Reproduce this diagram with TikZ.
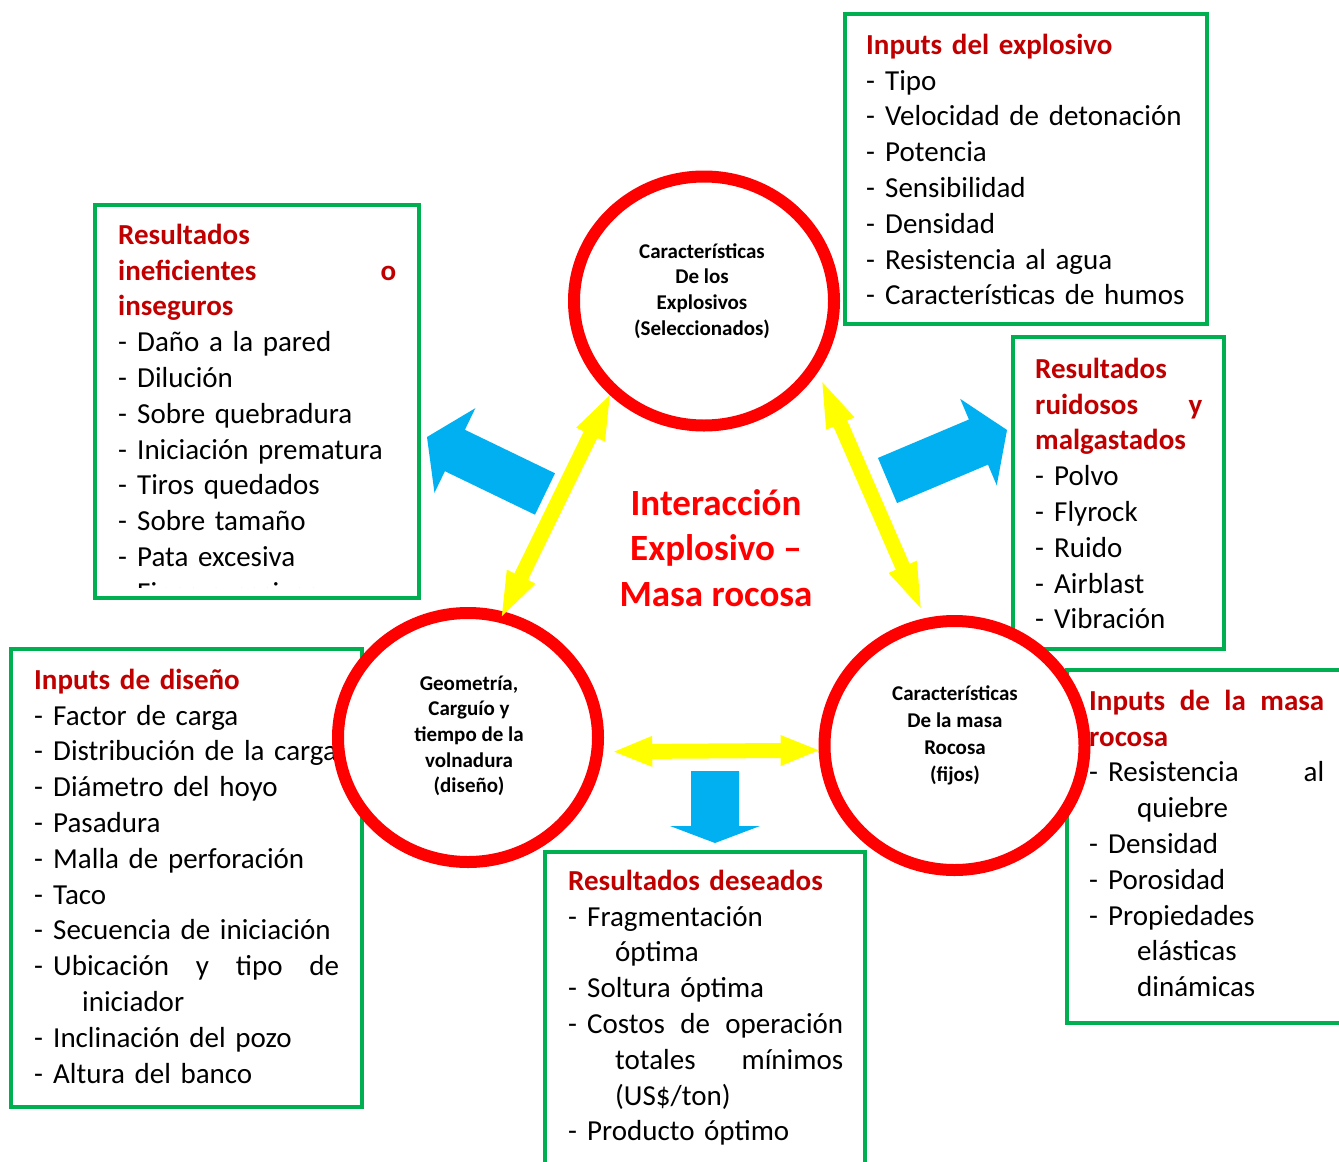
\documentclass[tikz,border=0pt]{standalone}
\usepackage{fontspec}
\setmainfont{Carlito}
\usetikzlibrary{calc,shapes.geometric}
\definecolor{boxgreen}{HTML}{00B050}
\definecolor{ringred}{HTML}{FF0000}
\definecolor{dred}{HTML}{C00000}
\definecolor{yel}{HTML}{FFFF00}
\definecolor{blu}{HTML}{00B0F0}
\newcommand{\itm}[1]{\makebox[19pt][l]{-}#1}
\newcommand{\ttl}[1]{{\color{dred}\bfseries #1}}
% double yellow arrow: #1,#2 tips; #3 head length; #4 head half width; #5 shaft half width
\newcommand{\dblarr}[5]{%
 \fill[yel] (#1) -- ($(#1)!#3!(#2)!#4!90:(#2)$) -- ($(#1)!#3!(#2)!#5!90:(#2)$)
  -- ($(#2)!#3!(#1)!#5!-90:(#1)$) -- ($(#2)!#3!(#1)!#4!-90:(#1)$) -- (#2)
  -- ($(#2)!#3!(#1)!#4!90:(#1)$) -- ($(#2)!#3!(#1)!#5!90:(#1)$)
  -- ($(#1)!#3!(#2)!#5!-90:(#2)$) -- ($(#1)!#3!(#2)!#4!-90:(#2)$) -- cycle;}
% single blue block arrow: #1 tail, #2 tip; #3 head length; #4 head half width; #5 shaft half width
\newcommand{\sarr}[5]{%
 \fill[blu] ($(#1)!#5!90:(#2)$) -- ($(#2)!#3!(#1)!#5!-90:(#1)$) -- ($(#2)!#3!(#1)!#4!-90:(#1)$)
  -- (#2) -- ($(#2)!#3!(#1)!#4!90:(#1)$) -- ($(#2)!#3!(#1)!#5!90:(#1)$)
  -- ($(#1)!#5!-90:(#2)$) -- cycle;}
\tikzset{
 gbox/.style={draw=boxgreen, line width=4pt, inner sep=0pt, outer sep=0pt, anchor=north west},
 ring/.style={ellipse, draw=ringred, line width=12pt, fill=white, minimum width=260pt, minimum height=249pt, inner sep=0pt},
 boxtext/.style={anchor=north west, inner sep=0pt, text width=#1, align=left, font=\fontsize{29}{35.8}\selectfont},
 ringtext/.style={anchor=north, inner sep=0pt, align=center, font=\fontsize{21}{25.7}\selectfont\bfseries},
 centertext/.style={anchor=north, inner sep=0pt, align=center, text=ringred, font=\fontsize{37}{45.5}\selectfont\bfseries}
}
\begin{document}
\begin{tikzpicture}[x=1pt,y=-1pt]
\useasboundingbox (0,0) rectangle (1339,1162);
\fill[white] (0,0) rectangle (1339,1162);

% ---- boxes ----
\node[gbox, minimum width=362pt, minimum height=310pt] (boxA) at (845,14) {};
\node[gbox, minimum width=211pt, minimum height=312pt] (boxB) at (1013,337) {};
\node[gbox, minimum width=324pt, minimum height=393pt] (boxC) at (95,204.5) {};
\node[gbox, minimum width=351pt, minimum height=458pt] (boxD) at (11,649) {};
\node[gbox, minimum width=320pt, minimum height=340pt] (boxE) at (545,852) {};
\node[gbox, minimum width=300pt, minimum height=353pt] (boxF) at (1067,670) {};

% ---- box texts ----
\node[boxtext=335pt] (txtA) at (866,28.94) {\strut\ttl{Inputs del explosivo}\\
\itm{Tipo}\\ \itm{Velocidad de detonación}\\ \itm{Potencia}\\ \itm{Sensibilidad}\\
\itm{Densidad}\\ \itm{Resistencia al agua}\\ \itm{Características de humos}};

\node[boxtext=167pt] (txtB) at (1035,352.94) {\strut\ttl{Resultados}\\ \ttl{ruidosos\hfill y}\\ \ttl{malgastados}\\
\itm{Polvo}\\ \itm{Flyrock}\\ \itm{Ruido}\\ \itm{Airblast}\\ \itm{Vibración}};

\begin{scope}
\clip (97,206) rectangle (417,587);
\node[boxtext=278pt] (txtC) at (118,218.94) {\strut\ttl{Resultados}\\ \ttl{ineficientes\hfill o}\\ \ttl{inseguros}\\
\itm{Daño a la pared}\\ \itm{Dilución}\\ \itm{Sobre quebradura}\\ \itm{Iniciación prematura}\\
\itm{Tiros quedados}\\ \itm{Sobre tamaño}\\ \itm{Pata excesiva}\\ \itm{Finos excesivos}};
\end{scope}

\node[boxtext=305pt] (txtD) at (34,663.94) {\strut\ttl{Inputs de diseño}\\
\itm{Factor de carga}\\ \itm{Distribución de la carga}\\ \itm{Diámetro del hoyo}\\ \itm{Pasadura}\\
\itm{Malla de perforación}\\ \itm{Taco}\\ \itm{Secuencia de iniciación}\\
\itm{Ubicación\hfill y\hfill tipo\hfill de}\\ \hspace*{48pt}iniciador\\
\itm{Inclinación del pozo}\\ \itm{Altura del banco}};

\node[boxtext=275pt] (txtE) at (568,864.94) {\strut\ttl{Resultados deseados}\\
\itm{Fragmentación}\\ \hspace*{47pt}óptima\\ \itm{Soltura óptima}\\
\itm{Costos\hfill de\hfill operación}\\ \hspace*{47pt}totales\hfill mínimos\\ \hspace*{47pt}(US\$/ton)\\
\itm{Producto óptimo}};

\node[boxtext=235pt] (txtF) at (1089,684.94) {\strut\ttl{Inputs\hfill de\hfill la\hfill masa}\\ \ttl{rocosa}\\
\itm{Resistencia\hfill al}\\ \hspace*{48pt}quiebre\\ \itm{Densidad}\\ \itm{Porosidad}\\
\itm{Propiedades}\\ \hspace*{48pt}elásticas\\ \hspace*{48pt}dinámicas};

% ---- blue block arrows ----
\coordinate (b1t) at (545,494); \coordinate (b1h) at (427,437);
\coordinate (b2t) at (887.5,480.5); \coordinate (b2h) at (1007,430);
\coordinate (b3t) at (715,771); \coordinate (b3h) at (715,843);
\sarr{b1t}{b1h}{31pt}{47pt}{23pt}
\sarr{b2t}{b2h}{31pt}{47pt}{24.5pt}
\sarr{b3t}{b3h}{17pt}{45pt}{24pt}

% ---- circles ----
\node[ring] (topc) at (704,301) {};
\node[ring] (leftc) at (468,737.5) {};
\node[ring] (rightc) at (954.5,745.5) {};

\node[ringtext] (topt) at (702,240) {\strut Características\\ De los\\ Explosivos\\ (Seleccionados)};
\node[ringtext] (leftt) at (469,672) {\strut Geometría,\\ Carguío y\\ tiempo de la\\ volnadura\\ (diseño)};
\node[ringtext, font=\fontsize{21}{27}\selectfont\bfseries] (rightt) at (955,681.8) {\strut Características\\ De la masa\\ Rocosa\\ (fijos)};

% ---- yellow double arrows ----
\coordinate (y1a) at (topc.225.6);
\coordinate (y1b) at ($(leftc.74)!-5pt!(topc.225.6)$);
\coordinate (y2a) at ($(topc.328)!11pt!(rightc.103)$);
\coordinate (y2b) at ($(rightc.103)!11pt!(topc.328)$);
\coordinate (y3a) at ($(leftc.-6)!11pt!(rightc.182.7)$);
\coordinate (y3b) at (rightc.182.7);
\dblarr{y1a}{y1b}{44pt}{16pt}{7.5pt}
\dblarr{y2a}{y2b}{45pt}{15.5pt}{7.5pt}
\dblarr{y3a}{y3b}{38pt}{15.5pt}{7.5pt}

% ---- centre text ----
\node[centertext] (centre) at (716,483.2) {\strut Interacción\\ Explosivo –\\ Masa rocosa};
\end{tikzpicture}
\end{document}
